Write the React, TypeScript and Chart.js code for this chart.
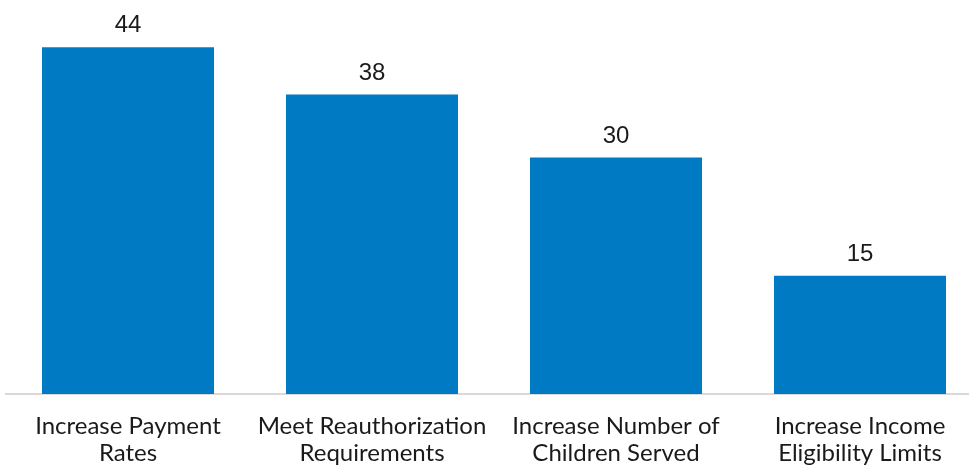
import React, { useEffect, useRef } from "react";
import { Chart, registerables } from "chart.js";

Chart.register(...registerables);

// Categories (two-line labels) and their values
const categories: string[][] = [
  ["Increase Payment", "Rates"],
  ["Meet Reauthorization", "Requirements"],
  ["Increase Number of", "Children Served"],
  ["Increase Income", "Eligibility Limits"],
];
const values: number[] = [44, 38, 30, 15];
const yMin = 0;
const yMax = 50;

const BAR_COLOR = "#007BC3";

// Draws the value above each bar
const valueLabels = {
  id: "valueLabels",
  afterDatasetsDraw(chart: any) {
    const { ctx } = chart;
    const meta = chart.getDatasetMeta(0);
    ctx.save();
    ctx.font = "24px 'Liberation Sans', Arial, sans-serif";
    ctx.fillStyle = "#1a1a1a";
    ctx.textAlign = "center";
    ctx.textBaseline = "alphabetic";
    meta.data.forEach((bar: any, i: number) => {
      ctx.fillText(String(values[i]), bar.x, bar.y - 15);
    });
    ctx.restore();
  },
};

export default function App() {
  const canvasRef = useRef<HTMLCanvasElement | null>(null);

  useEffect(() => {
    if (!canvasRef.current) return;
    const chart = new Chart(canvasRef.current, {
      type: "bar",
      data: {
        labels: categories,
        datasets: [
          {
            data: values,
            backgroundColor: BAR_COLOR,
            categoryPercentage: 1,
            barPercentage: 0.705,
          },
        ],
      },
      options: {
        animation: false,
        responsive: false,
        maintainAspectRatio: false,
        layout: { padding: { left: 6, right: 8, top: 0, bottom: 0 } },
        plugins: {
          legend: { display: false },
          tooltip: { enabled: false },
        },
        scales: {
          x: {
            grid: { display: true, drawOnChartArea: false, drawTicks: false },
            border: { display: true, color: "#d9d9d9", width: 2 },
            ticks: {
              color: "#1a1a1a",
              padding: 19,
              maxRotation: 0,
              autoSkip: false,
              font: { family: "Lato, 'Open Sans', sans-serif", size: 24, lineHeight: 1.11 },
            },
            afterFit(scale: any) {
              scale.height = 74;
            },
          },
          y: {
            display: false,
            min: yMin,
            max: yMax,
          },
        },
      },
      plugins: [valueLabels],
    });
    return () => chart.destroy();
  }, []);

  return (
    <div
      style={{
        position: "fixed",
        left: 0,
        top: 0,
        width: 969,
        height: 468,
        overflow: "hidden",
        background: "#ffffff",
      }}
    >
      <canvas ref={canvasRef} width={990} height={468} style={{ display: "block" }} />
    </div>
  );
}
